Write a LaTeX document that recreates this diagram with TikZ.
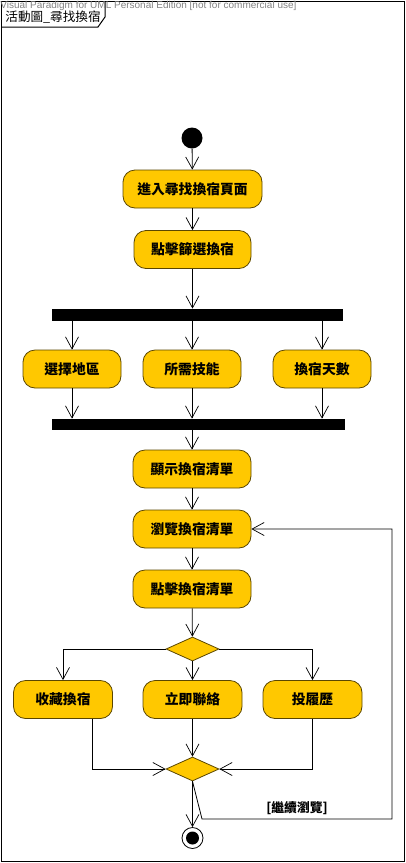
\documentclass[tikz,border=0pt]{standalone}
\usepackage{fontspec}
\setmainfont{Noto Sans CJK TC}
\newfontfamily\latinsans{Liberation Sans}
\usetikzlibrary{arrows.meta,shapes.geometric}
\definecolor{actfill}{RGB}{255,200,0}
\definecolor{actline}{RGB}{90,70,0}
\definecolor{wmgray}{RGB}{130,130,130}
\begin{document}
\begin{tikzpicture}[x=1pt,y=-1pt,
  line width=0.8pt,
  actbox/.style={rectangle, rounded corners=12pt, draw=actline, fill=actfill,
    minimum height=38pt, inner sep=0pt, font=\fontsize{13.8}{14}\selectfont\bfseries},
  bar/.style={rectangle, fill=black, inner sep=0pt},
  choice/.style={diamond, draw=actline, fill=actfill, inner sep=0pt,
    minimum width=53pt, minimum height=24pt},
  arr/.style={-{Straight Barb[length=12pt,width=13pt,line width=0.7pt]}},
]
\useasboundingbox (0,0) rectangle (406,863);

% frame and title tab
\draw[line width=1pt] (1,1) rectangle (404,861);
\draw[line width=1pt] (1,27) -- (98,27) -- (105,17) -- (105,1);
\node[anchor=west, inner sep=0pt, font=\fontsize{12.6}{13}\selectfont] (title) at (5,17) {活動圖\_尋找換宿};
\node[anchor=west, inner sep=0pt, text=wmgray, font=\latinsans\fontsize{10}{11}\selectfont] (wm) at (0,6) {Visual Paradigm for UML Personal Edition [not for commercial use]};

% nodes
\node[circle, fill=black, minimum size=21pt, inner sep=0pt] (start) at (192,138) {};
\node[actbox, minimum width=139pt] (a1) at (192.5,189) {進入尋找換宿頁面};
\node[actbox, minimum width=117pt] (a2) at (192.5,249.5) {點擊篩選換宿};
\node[bar, minimum width=291pt, minimum height=12pt] (fork) at (197.5,315) {};
\node[actbox, minimum width=98pt] (s1) at (72,369) {選擇地區};
\node[actbox, minimum width=98pt] (s2) at (192,369) {所需技能};
\node[actbox, minimum width=98pt] (s3) at (322,369) {換宿天數};
\node[bar, minimum width=293pt, minimum height=11pt] (join) at (198.5,424.5) {};
\node[actbox, minimum width=118pt] (a3) at (192,469) {顯示換宿清單};
\node[actbox, minimum width=118pt] (a4) at (192,529) {瀏覽換宿清單};
\node[actbox, minimum width=118pt] (a5) at (192,589) {點擊換宿清單};
\node[choice] (dec) at (192.5,649) {};
\node[actbox, minimum width=99pt] (c1) at (63,699.5) {收藏換宿};
\node[actbox, minimum width=99pt] (c2) at (192.5,699.5) {立即聯絡};
\node[actbox, minimum width=99pt] (c3) at (312.5,699.5) {投履歷};
\node[choice] (merge) at (192.5,769) {};
\node[circle, draw=black, fill=white, minimum size=21pt, inner sep=0pt] (final) at (192.5,838) {};
\fill (final.center) circle (6.5pt);

\coordinate (bend) at (202,819);
\coordinate (loopR) at (392,819);
\node[font=\fontsize{12.8}{13}\selectfont\bfseries, inner sep=0pt] (guard) at (297,808) {[繼續瀏覽]};

% flow
\draw[arr] (start) -- (a1);
\draw[arr] (a1) -- (a2);
\draw[arr] (a2) -- (a2 |- fork.north);
\draw[arr] (s1 |- fork.south) -- (s1);
\draw[arr] (s2 |- fork.south) -- (s2);
\draw[arr] (s3 |- fork.south) -- (s3);
\draw[arr] (s1) -- (s1 |- join.north);
\draw[arr] (s2) -- (s2 |- join.north);
\draw[arr] (s3) -- (s3 |- join.north);
\draw[arr] (a3 |- join.south) -- (a3);
\draw[arr] (a3) -- (a4);
\draw[arr] (a4) -- (a5);
\draw[arr] (a5) -- (dec);
\draw[arr] (dec.west) -| (c1);
\draw[arr] (dec) -- (c2);
\draw[arr] (dec.east) -| (c3);
\draw[arr] ([xshift=29pt]c1.south) |- (merge.west);
\draw[arr] (c2) -- (merge.north);
\draw[arr] (c3.south) |- (merge.east);
\draw[arr] (merge.south) -- (final);
\draw[arr] (merge.south) -- (bend) -- (loopR) |- (a4.east);
\end{tikzpicture}
\end{document}
